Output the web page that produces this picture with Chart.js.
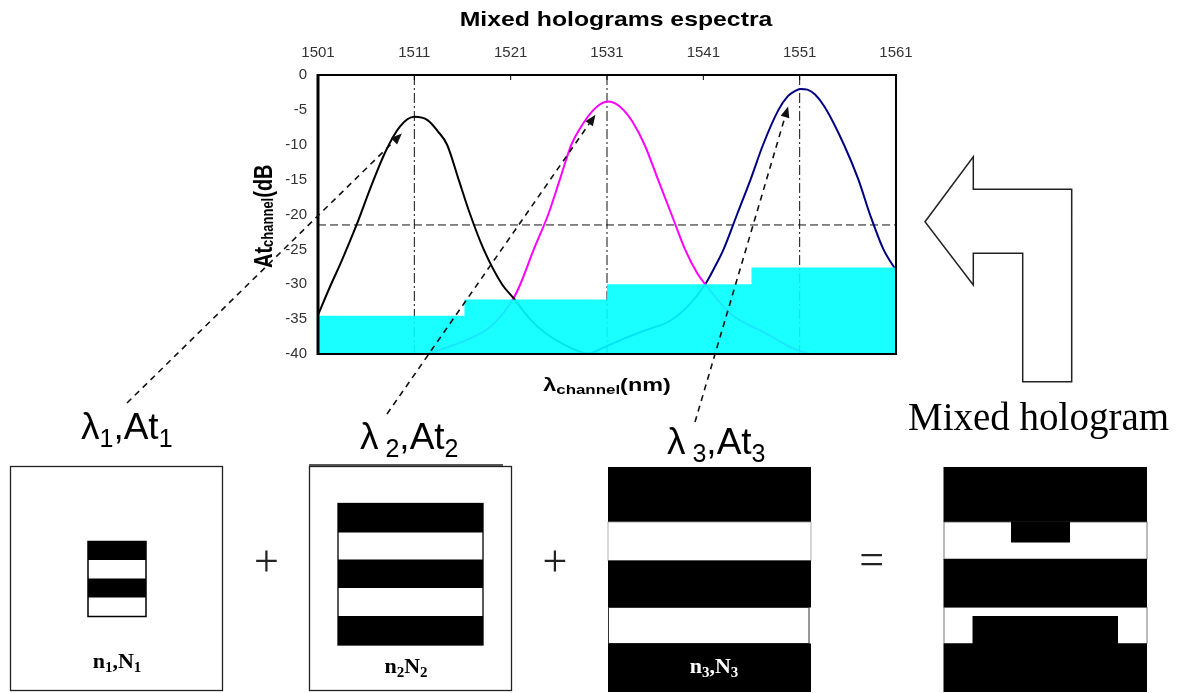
<!DOCTYPE html>
<html>
<head>
<meta charset="utf-8">
<script src="https://cdn.jsdelivr.net/npm/chart.js@4.4.1/dist/chart.umd.min.js"></script>
<style>
  html, body { margin: 0; padding: 0; background: #fff; }
  #wrap { position: relative; width: 1189px; height: 693px; overflow: hidden; }
  #spectra, #diagram { position: absolute; left: 0; top: 0; }
</style>
</head>
<body>
<div id="wrap">
  <canvas id="spectra" width="1189" height="693"></canvas>
  <svg id="diagram" width="1189" height="693" viewBox="0 0 1189 693" font-family="'Liberation Sans', Arial, sans-serif">
    <!-- return arrow -->
    <polygon points="925,221.7 973.3,156.7 973.3,189.3 1071.7,189.3 1071.7,381.7 1022.7,381.7 1022.7,253.3 973.3,253.3 973.3,285" fill="#fff" stroke="#222" stroke-width="1.5"/>

    <!-- hologram 1 -->
    <rect x="10.5" y="466.5" width="212" height="224" fill="#fff" stroke="#222" stroke-width="1.3"/>
    <rect x="88" y="541.5" width="58" height="75" fill="#fff" stroke="#000" stroke-width="1.5"/>
    <rect x="88" y="541.5" width="58" height="18.5" fill="#000"/>
    <rect x="88" y="578.5" width="58" height="19" fill="#000"/>

    <!-- hologram 2 -->
    <line x1="309" y1="465" x2="503" y2="465" stroke="#222" stroke-width="1.3"/>
    <rect x="309.5" y="466.5" width="202" height="224" fill="#fff" stroke="#222" stroke-width="1.3"/>
    <rect x="338" y="503.5" width="145" height="141.5" fill="#fff" stroke="#000" stroke-width="1.3"/>
    <rect x="338" y="503.5" width="145" height="29" fill="#000"/>
    <rect x="338" y="559.5" width="145" height="28.5" fill="#000"/>
    <rect x="338" y="616" width="145" height="29" fill="#000"/>

    <!-- hologram 3 -->
    <rect x="608" y="467" width="203" height="55" fill="#000"/>
    <rect x="608" y="522" width="203" height="38.5" fill="#fff" stroke="#999" stroke-width="0.8"/>
    <rect x="608" y="560.5" width="203" height="47" fill="#000"/>
    <rect x="608.5" y="607.5" width="200.5" height="36" fill="#fff" stroke="#333" stroke-width="1"/>
    <rect x="608" y="643.5" width="203" height="48.5" fill="#000"/>

    <!-- mixed hologram -->
    <rect x="943.5" y="467" width="203.5" height="55" fill="#000"/>
    <rect x="944" y="522" width="203" height="37" fill="#fff" stroke="#555" stroke-width="0.8"/>
    <rect x="1011" y="521.5" width="59" height="21" fill="#000"/>
    <rect x="943.5" y="559" width="203.5" height="48.5" fill="#000"/>
    <rect x="944" y="607.5" width="203" height="36" fill="#fff" stroke="#555" stroke-width="0.8"/>
    <rect x="972.5" y="616" width="145.5" height="28" fill="#000"/>
    <rect x="943.5" y="643.5" width="203.5" height="48.5" fill="#000"/>

    <!-- labels -->
    <text x="81" y="439" font-size="37" fill="#000">λ<tspan font-size="25" dy="8">1</tspan><tspan dy="-8">,At</tspan><tspan font-size="25" dy="8">1</tspan></text>
    <text x="360" y="449" font-size="37" fill="#000">λ<tspan font-size="25" dy="8">&#160;2</tspan><tspan dy="-8">,At</tspan><tspan font-size="25" dy="8">2</tspan></text>
    <text x="667" y="454" font-size="37" fill="#000">λ<tspan font-size="25" dy="8">&#160;3</tspan><tspan dy="-8">,At</tspan><tspan font-size="25" dy="8">3</tspan></text>
    <text x="908" y="430" font-size="39" font-family="'Liberation Serif', 'Times New Roman', serif" fill="#000">Mixed hologram</text>

    <g font-family="'Liberation Serif', 'Times New Roman', serif" fill="#222" text-anchor="middle" font-size="44">
      <text x="266.5" y="576">+</text>
      <text x="555" y="576">+</text>
      <text x="871.7" y="573.5">=</text>
    </g>

    <g font-family="'Liberation Serif', 'Times New Roman', serif" font-weight="bold" font-size="22" text-anchor="middle">
      <text x="117" y="668" fill="#000">n<tspan font-size="15" dy="4">1</tspan><tspan dy="-4">,N</tspan><tspan font-size="15" dy="4">1</tspan></text>
      <text x="406" y="673" fill="#000">n<tspan font-size="15" dy="4">2</tspan><tspan dy="-4">N</tspan><tspan font-size="15" dy="4">2</tspan></text>
      <text x="714" y="673" fill="#fff">n<tspan font-size="15" dy="4">3</tspan><tspan dy="-4">,N</tspan><tspan font-size="15" dy="4">3</tspan></text>
    </g>
  </svg>
</div>
<script>
// top axis tick labels (nm)
const tickNm = [1501, 1511, 1521, 1531, 1541, 1551, 1561];

// channel 1 (black)
const ch1Nm = [1501, 1502.2, 1503.5, 1505, 1506.5, 1508, 1509.5, 1511, 1512.4, 1513.4, 1514.4, 1515.6, 1516.8, 1518.2, 1520.1, 1521.3, 1523, 1524.7, 1526.6, 1528.5, 1530.5];
const ch1Db = [-34.4, -30.5, -26.5, -21.5, -16, -11, -7.4, -6, -6.5, -8, -10, -15, -20, -25, -30, -32, -35, -37.1, -38.7, -39.8, -40];

// channel 2 (magenta)
const ch2Nm = [1512.3, 1514.5, 1516.4, 1519, 1521.3, 1522, 1523.4, 1524.9, 1526.1, 1527.3, 1528.5, 1529.6, 1530.4, 1531.1, 1531.9, 1532.7, 1533.6, 1534.9, 1536.3, 1537.7, 1539.1, 1540.4, 1541.2, 1543.8, 1547.6, 1550, 1552];
const ch2Db = [-40, -39, -38, -36, -32, -30, -25, -20, -15, -10, -7, -5, -4.1, -3.8, -4.1, -5, -6.6, -10, -15, -20, -25, -28.5, -30, -34.2, -37.1, -39, -40];

// channel 3 (navy)
const ch3Nm = [1529.2, 1532.4, 1535, 1537.6, 1539.5, 1541.2, 1542.2, 1543.1, 1544.5, 1545.9, 1547.2, 1548.8, 1549.8, 1550.5, 1551.1, 1551.8, 1552.6, 1553.6, 1555.6, 1557.1, 1558.3, 1559.7, 1561];
const ch3Db = [-40, -38, -36.6, -35.2, -33, -30, -27.5, -25, -20, -15, -10, -5, -3, -2.3, -2, -2.1, -2.8, -4.6, -10, -15, -20, -25, -28];

// attenuation steps (cyan)
const stepNm = [1501, 1516.2, 1531, 1546, 1561];
const stepDb = [-34.5, -32.2, -30, -27.6, -27.6];

// reference lines
const peakNm = [1511, 1531, 1551];
const levelDb = -21.5;

// where the dashed arrows point on the curves
const arrowNm = [1509.7, 1529.8, 1549.8];
const arrowDb = [-8.4, -5.7, -4.5];

const yMin = -40, yMax = 0;
const FONT = "'Liberation Sans', Arial, sans-serif";

const pts = (xs, ys) => xs.map((v, i) => ({ x: v, y: ys[i] }));

const curve = (label, nm, db, color) => ({
  label, data: pts(nm, db), borderColor: color, borderWidth: 2,
  pointRadius: 0, cubicInterpolationMode: "monotone", fill: false, order: 2
});

const guides = peakNm.map(nm => ({
  label: "peak " + nm, data: [{ x: nm, y: yMax }, { x: nm, y: yMin }],
  borderColor: "#111", borderWidth: 1, borderDash: [10, 3, 2, 3],
  pointRadius: 0, fill: false, order: 3
}));

function richText(ctx, parts) {
  let cx = 0;
  parts.forEach(p => {
    ctx.font = p.font;
    ctx.fillText(p.text, cx, p.dy || 0);
    cx += ctx.measureText(p.text).width;
  });
}
function richWidth(ctx, parts) {
  return parts.reduce((w, p) => { ctx.font = p.font; return w + ctx.measureText(p.text).width; }, 0);
}

function dashedArrow(ctx, x0, y0, x1, y1) {
  const a = Math.atan2(y1 - y0, x1 - x0);
  const head = 11, half = 4.5;
  const bx = x1 - head * Math.cos(a), by = y1 - head * Math.sin(a);
  ctx.setLineDash([6, 5]);
  ctx.beginPath(); ctx.moveTo(x0, y0); ctx.lineTo(bx, by); ctx.stroke();
  ctx.setLineDash([]);
  ctx.beginPath();
  ctx.moveTo(x1, y1);
  ctx.lineTo(bx + half * Math.sin(a), by - half * Math.cos(a));
  ctx.lineTo(bx - half * Math.sin(a), by + half * Math.cos(a));
  ctx.closePath(); ctx.fill();
}

const decor = {
  id: "decor",
  afterDatasetsDraw(chart) {
    const { ctx, chartArea: a, scales: { x } } = chart;
    ctx.save();
    ctx.strokeStyle = "#000";
    ctx.lineWidth = 2;
    ctx.strokeRect(a.left, a.top, a.right - a.left, a.bottom - a.top);
    ctx.lineWidth = 3;
    ctx.beginPath(); ctx.moveTo(a.left, a.top - 1); ctx.lineTo(a.left, a.bottom + 1); ctx.stroke();
    // small inward ticks along the top axis
    ctx.lineWidth = 1;
    x.ticks.forEach(t => {
      const px = x.getPixelForValue(t.value);
      ctx.beginPath(); ctx.moveTo(px, a.top); ctx.lineTo(px, a.top + 5); ctx.stroke();
    });
    ctx.restore();
  },
  afterDraw(chart) {
    const { ctx, chartArea: a, scales: { x, y } } = chart;
    ctx.save();
    ctx.fillStyle = "#000";
    ctx.textBaseline = "alphabetic";

    // title (the source raster is stretched sideways, so are these texts)
    ctx.save();
    ctx.translate(616, 26); ctx.scale(1.18, 1);
    ctx.textAlign = "center";
    ctx.font = "bold 21px " + FONT;
    ctx.fillText("Mixed holograms espectra", 0, 0);
    ctx.restore();

    // x title
    const xt = [
      { text: "λ", font: "bold 18px " + FONT },
      { text: "channel", font: "bold 13px " + FONT, dy: 3 },
      { text: "(nm)", font: "bold 18px " + FONT }
    ];
    ctx.save();
    const w = richWidth(ctx, xt) * 1.3;
    ctx.translate((a.left + a.right) / 2 - w / 2, 391); ctx.scale(1.3, 1);
    richText(ctx, xt);
    ctx.restore();

    // y title
    const yt = [
      { text: "At", font: "bold 20px " + FONT },
      { text: "channel", font: "bold 13px " + FONT, dy: 1 },
      { text: "(dB", font: "bold 20px " + FONT }
    ];
    ctx.save();
    ctx.translate(272, 268); ctx.rotate(-Math.PI / 2); ctx.scale(1, 1.3);
    richText(ctx, yt);
    ctx.restore();

    // dashed arrows from the hologram labels to the channel curves
    const from = [[127, 403], [387, 414], [695, 422]];
    ctx.strokeStyle = "#111"; ctx.fillStyle = "#111"; ctx.lineWidth = 1.6;
    arrowNm.forEach((nm, i) => {
      dashedArrow(ctx, from[i][0], from[i][1], x.getPixelForValue(nm), y.getPixelForValue(arrowDb[i]));
    });
    ctx.restore();
  }
};

new Chart(document.getElementById("spectra").getContext("2d"), {
  type: "line",
  data: {
    datasets: [
      {
        label: "Attenuation", data: pts(stepNm, stepDb), stepped: true,
        fill: "start", backgroundColor: "rgba(0,255,255,0.9)",
        borderWidth: 0, pointRadius: 0, order: 1
      },
      curve("λ1", ch1Nm, ch1Db, "#000000"),
      curve("λ2", ch2Nm, ch2Db, "#ff00ff"),
      curve("λ3", ch3Nm, ch3Db, "#000080"),
      ...guides,
      {
        label: "level", data: [{ x: tickNm[0], y: levelDb }, { x: tickNm[tickNm.length - 1], y: levelDb }],
        borderColor: "#111", borderWidth: 1, borderDash: [8, 4], pointRadius: 0, fill: false, order: 3
      }
    ]
  },
  options: {
    responsive: false,
    animation: false,
    events: [],
    layout: { padding: { left: 268, top: 35, right: 293, bottom: 339 } },
    plugins: { legend: { display: false }, tooltip: { enabled: false }, title: { display: false } },
    scales: {
      x: {
        type: "linear", position: "top", min: tickNm[0], max: tickNm[tickNm.length - 1],
        afterBuildTicks(s) { s.ticks = tickNm.map(v => ({ value: v })); },
        afterFit(s) { s.height = 40; },
        ticks: { callback: v => String(v), autoSkip: false, maxRotation: 0, padding: 13, color: "#333", font: { family: FONT, size: 15 } },
        grid: { display: false, drawTicks: false },
        border: { display: false }
      },
      y: {
        min: yMin, max: yMax,
        afterFit(s) { s.width = 50; },
        ticks: { stepSize: 5, padding: 11, color: "#333", font: { family: FONT, size: 15 } },
        grid: { display: false, drawTicks: false },
        border: { display: false }
      }
    }
  },
  plugins: [decor]
});
</script>
</body>
</html>
